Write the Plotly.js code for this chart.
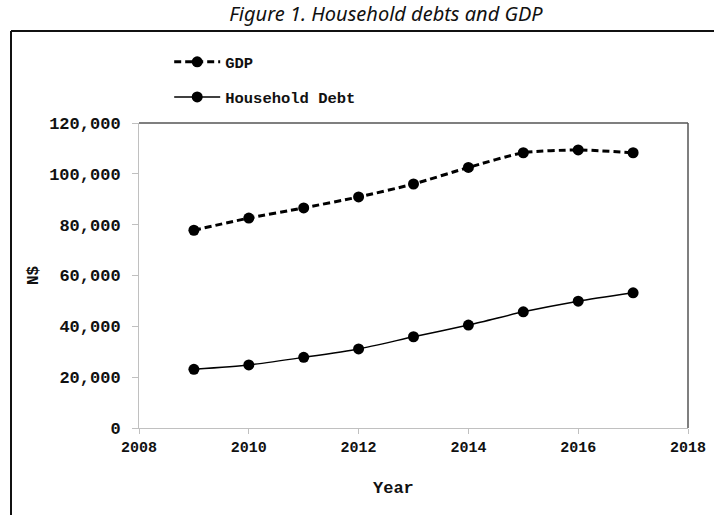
<!DOCTYPE html>
<html><head><meta charset="utf-8">
<script src="https://cdn.plot.ly/plotly-3.0.1.min.js"></script>
<style>body{margin:0;padding:0;background:#fff}#chart{width:714px;height:515px}</style>
</head><body><div id="chart"></div>
<script>
const years = [2009, 2010, 2011, 2012, 2013, 2014, 2015, 2016, 2017];
const gdp = [77800, 82600, 86600, 90900, 96000, 102500, 108300, 109400, 108300];
const householdDebt = [23100, 24800, 27800, 31100, 35900, 40500, 45700, 49900, 53200];
const xTicks = [2008, 2010, 2012, 2014, 2016, 2018];
const yTicks = [0, 20000, 40000, 60000, 80000, 100000, 120000];
const yTickLabels = ['0', '20,000', '40,000', '60,000', '80,000', '100,000', '120,000'];

const monoFam = 'Liberation Mono, Courier New, monospace';
const traces = [
  {x: years, y: gdp, name: '<b>GDP</b>', legendgroup: 'g1', type: 'scatter', mode: 'lines+markers',
   line: {color: '#000', width: 3, dash: '7px,4px', shape: 'spline', smoothing: 0.6},
   marker: {color: '#000', size: 11}},
  {x: years, y: householdDebt, name: '<b>Household Debt</b>', legendgroup: 'g2', type: 'scatter', mode: 'lines+markers',
   line: {color: '#000', width: 1.5, shape: 'spline', smoothing: 0.6},
   marker: {color: '#000', size: 11}}
];
const layout = {
  width: 714, height: 515,
  paper_bgcolor: '#fff', plot_bgcolor: '#fff',
  margin: {l: 139, r: 26, t: 123, b: 87},
  showlegend: true,
  legend: {x: 0.055, xref: 'paper', xanchor: 'left', y: 1.255, yanchor: 'top', bgcolor: 'rgba(0,0,0,0)',
           font: {family: monoFam, size: 15.5, color: '#111'}, traceorder: 'grouped', tracegroupgap: 12, itemwidth: 46},
  title: {text: '<i>Figure 1. Household debts and GDP</i>', x: 386 / 714, xref: 'container', xanchor: 'center',
          y: 1 - 14 / 515, yref: 'container', yanchor: 'middle',
          font: {family: 'Noto Sans, Open Sans, sans-serif', size: 20, color: '#111'}},
  xaxis: {range: [2008, 2018], tickvals: xTicks, ticktext: xTicks.map(String),
          showgrid: false, zeroline: false, showline: true, linecolor: '#c0c0c0', linewidth: 1,
          ticks: 'outside', ticklen: 5, tickcolor: '#c0c0c0',
          tickfont: {family: monoFam, size: 15, color: '#111', weight: 'bold'}},
  yaxis: {range: [0, 120000], tickvals: yTicks, ticktext: yTickLabels,
          showgrid: false, zeroline: false, showline: true, linecolor: '#c0c0c0', linewidth: 1,
          ticks: 'outside', ticklen: 6, tickcolor: '#c0c0c0', ticklabelstandoff: 8,
          tickfont: {family: monoFam, size: 17, color: '#111', weight: 'bold'},
          title: {text: '<b>N$</b>', standoff: 6, font: {family: monoFam, size: 16, color: '#111'}}},
  annotations: [
    {text: '<b>Year</b>', xref: 'paper', yref: 'paper', x: (393 - 139) / 549, y: (428 - 488) / 305,
     xanchor: 'center', yanchor: 'middle', showarrow: false, font: {family: monoFam, size: 17, color: '#111'}}
  ],
  shapes: [
    {type: 'line', xref: 'paper', yref: 'paper', x0: 0, x1: 1, y0: 1, y1: 1, line: {color: '#555', width: 1.5}},
    {type: 'line', xref: 'paper', yref: 'paper', x0: 1, x1: 1, y0: 0, y1: 1, line: {color: '#555', width: 1.5}},
    {type: 'line', xref: 'paper', yref: 'paper', x0: (11 - 139) / 549, x1: (720 - 139) / 549, y0: (428 - 31) / 305, y1: (428 - 31) / 305, line: {color: '#111', width: 2}},
    {type: 'line', xref: 'paper', yref: 'paper', x0: (11 - 139) / 549, x1: (11 - 139) / 549, y0: (428 - 520) / 305, y1: (428 - 31) / 305, line: {color: '#111', width: 2}}
  ]
};
Plotly.newPlot('chart', traces, layout, {displayModeBar: false, staticPlot: true});
</script></body></html>
